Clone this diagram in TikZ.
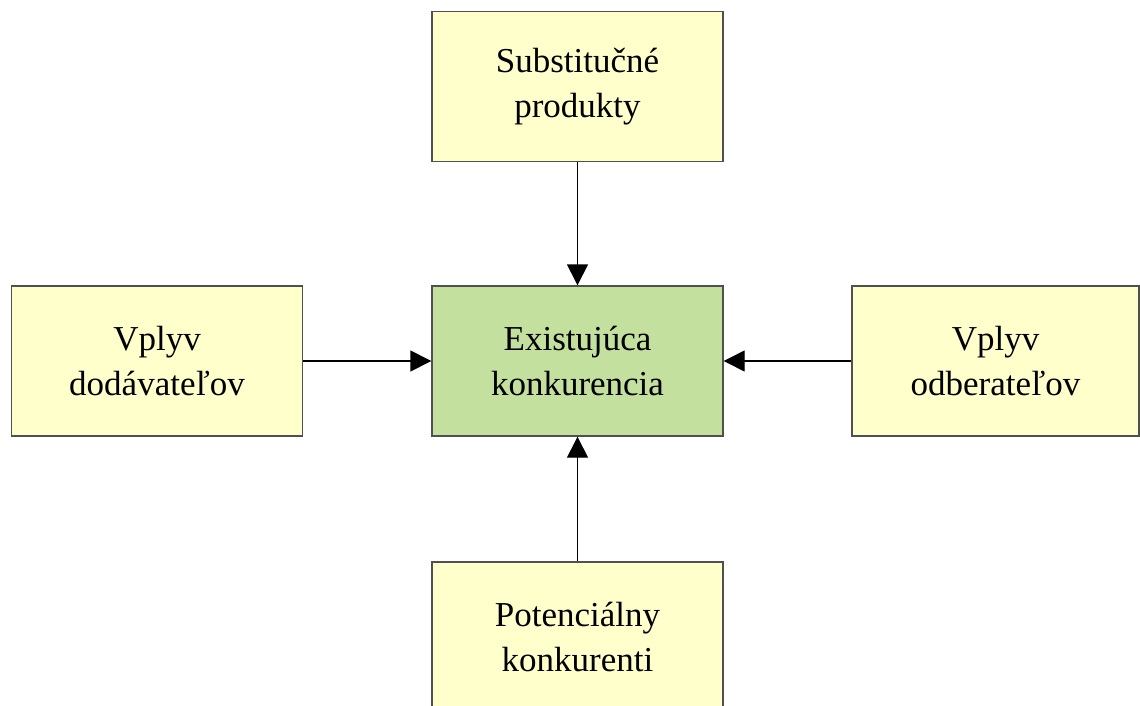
\documentclass[tikz,border=0pt]{standalone}
\usepackage{fontspec}
\setmainfont{Liberation Serif}
\usetikzlibrary{arrows.meta}
\definecolor{boxyellow}{RGB}{255,255,204}
\definecolor{boxgreen}{RGB}{196,224,158}
\definecolor{boxedge}{RGB}{80,80,80}
\tikzset{
  box/.style={draw=boxedge, line width=1.4pt, fill=boxyellow, minimum width=291pt, minimum height=150pt, inner sep=0pt, align=center, font=\fontsize{35pt}{45pt}\selectfont, text=black},
  link/.style={draw=black, line width=1.4pt, -{Triangle[length=21pt,width=21pt]}}
}
\begin{document}
\begin{tikzpicture}[x=1pt,y=-1pt]
\useasboundingbox (0,0) rectangle (1140,706);
\clip (0,0) rectangle (1140,706);
\fill[white] (0,0) rectangle (1140,706);
\node[box] (top) at (577.5,86.5) {Substitučné\\produkty};
\node[box, fill=boxgreen] (mid) at (577.5,361) {Existujúca\\konkurencia};
\node[box] (left) at (157,361) {Vplyv\\dodávateľov};
\node[box, minimum width=287pt] (right) at (995.5,361) {Vplyv\\odberateľov};
\node[box] (bot) at (577.5,637) {Potenciálny\\konkurenti};
\draw[link] (top) -- (mid);
\draw[link] (left) -- (mid);
\draw[link] (right) -- (mid);
\draw[link] (bot) -- (mid);
\end{tikzpicture}
\end{document}
